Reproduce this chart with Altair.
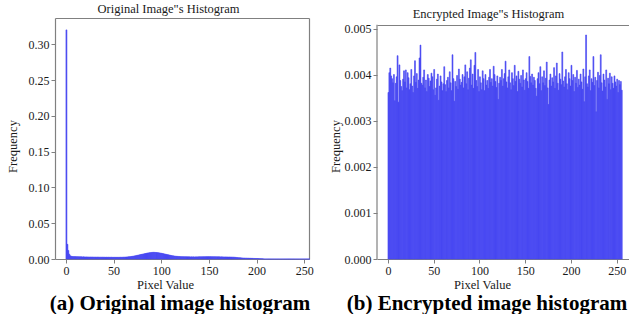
import altair as alt
import pandas as pd

# Pixel intensities 0..255 and the normalised histogram of each image
pixel_values = list(range(256))

original_freq = [
    0.3200, 0.0205, 0.0120, 0.0068, 0.0045, 0.0038, 0.0035, 0.0034, 0.0033, 0.0034, 0.0032, 0.0033, 0.0031, 0.0032, 0.0030, 0.0031,
    0.0030, 0.0029, 0.0030, 0.0029, 0.0028, 0.0029, 0.0028, 0.0028, 0.0027, 0.0028, 0.0027, 0.0028, 0.0027, 0.0026, 0.0027, 0.0026,
    0.0026, 0.0027, 0.0026, 0.0025, 0.0026, 0.0025, 0.0026, 0.0025, 0.0025, 0.0024, 0.0025, 0.0024, 0.0025, 0.0024, 0.0024, 0.0025,
    0.0024, 0.0023, 0.0024, 0.0024, 0.0023, 0.0024, 0.0023, 0.0024, 0.0024, 0.0025, 0.0024, 0.0025, 0.0026, 0.0026, 0.0027, 0.0028,
    0.0029, 0.0030, 0.0032, 0.0033, 0.0035, 0.0037, 0.0039, 0.0042, 0.0044, 0.0047, 0.0050, 0.0053, 0.0056, 0.0059, 0.0062, 0.0065,
    0.0068, 0.0071, 0.0074, 0.0077, 0.0080, 0.0083, 0.0085, 0.0087, 0.0089, 0.0091, 0.0092, 0.0093, 0.0093, 0.0092, 0.0091, 0.0090,
    0.0088, 0.0086, 0.0084, 0.0082, 0.0079, 0.0076, 0.0073, 0.0070, 0.0067, 0.0064, 0.0061, 0.0058, 0.0055, 0.0052, 0.0049, 0.0046,
    0.0044, 0.0042, 0.0040, 0.0038, 0.0037, 0.0036, 0.0035, 0.0034, 0.0033, 0.0033, 0.0032, 0.0032, 0.0031, 0.0031, 0.0031, 0.0030,
    0.0030, 0.0030, 0.0029, 0.0030, 0.0029, 0.0030, 0.0029, 0.0029, 0.0030, 0.0029, 0.0030, 0.0030, 0.0031, 0.0030, 0.0031, 0.0031,
    0.0032, 0.0031, 0.0032, 0.0033, 0.0032, 0.0033, 0.0032, 0.0033, 0.0032, 0.0032, 0.0031, 0.0032, 0.0031, 0.0031, 0.0030, 0.0031,
    0.0030, 0.0030, 0.0029, 0.0030, 0.0029, 0.0029, 0.0028, 0.0029, 0.0028, 0.0028, 0.0027, 0.0028, 0.0027, 0.0027, 0.0026, 0.0026,
    0.0025, 0.0024, 0.0022, 0.0021, 0.0019, 0.0018, 0.0017, 0.0016, 0.0015, 0.0014, 0.0013, 0.0013, 0.0012, 0.0012, 0.0011, 0.0011,
    0.0010, 0.0010, 0.0009, 0.0009, 0.0008, 0.0008, 0.0007, 0.0007, 0.0006, 0.0006, 0.0005, 0.0004, 0.0004, 0.0003, 0.0002, 0.0001,
    0.0, 0.0, 0.0, 0.0, 0.0, 0.0, 0.0, 0.0, 0.0, 0.0, 0.0, 0.0, 0.0, 0.0, 0.0, 0.0,
    0.0, 0.0, 0.0, 0.0, 0.0, 0.0, 0.0, 0.0, 0.0, 0.0, 0.0, 0.0, 0.0, 0.0, 0.0, 0.0,
    0.0, 0.0, 0.0, 0.0, 0.0, 0.0, 0.0, 0.0, 0.0, 0.0, 0.0, 0.0, 0.0, 0.0, 0.0, 0.0,
]

encrypted_freq = [
    0.00362, 0.00405, 0.00415, 0.00398, 0.00392, 0.00383, 0.00401, 0.00344, 0.00382, 0.00396, 0.00442, 0.00341, 0.00422, 0.00388, 0.00375, 0.00366,
    0.00391, 0.00409, 0.00385, 0.00411, 0.00372, 0.00405, 0.00394, 0.00368, 0.00381, 0.00412, 0.00376, 0.00362, 0.00398, 0.00431, 0.00384, 0.00403,
    0.00371, 0.00389, 0.00437, 0.00465, 0.00382, 0.00378, 0.00395, 0.00411, 0.00372, 0.00389, 0.00364, 0.00401, 0.00393, 0.00375, 0.00387, 0.00404,
    0.00396, 0.00368, 0.00412, 0.00356, 0.00372, 0.00391, 0.00402, 0.00345, 0.00376, 0.00398, 0.00385, 0.00366, 0.00381, 0.00418, 0.00379, 0.00364,
    0.00388, 0.00395, 0.00372, 0.00407, 0.00383, 0.00366, 0.00444, 0.00392, 0.00343, 0.00386, 0.00375, 0.00399, 0.00369, 0.00413, 0.00391, 0.00378,
    0.00384, 0.00401, 0.00372, 0.00396, 0.00422, 0.00381, 0.00407, 0.00368, 0.00393, 0.00415, 0.00433, 0.00378, 0.00402, 0.00371, 0.00421, 0.00449,
    0.00388, 0.00375, 0.00412, 0.00364, 0.00396, 0.00383, 0.00368, 0.00409, 0.00392, 0.00366, 0.00401, 0.00378, 0.00388, 0.00371, 0.00395, 0.00412,
    0.00384, 0.00392, 0.00376, 0.00419, 0.00401, 0.00386, 0.00373, 0.00398, 0.00347, 0.00382, 0.00395, 0.00388, 0.00412, 0.00376, 0.00392, 0.00403,
    0.00430, 0.00385, 0.00372, 0.00396, 0.00411, 0.00383, 0.00368, 0.00405, 0.00392, 0.00377, 0.00421, 0.00386, 0.00398, 0.00364, 0.00408, 0.00391,
    0.00382, 0.00399, 0.00374, 0.00411, 0.00389, 0.00367, 0.00392, 0.00405, 0.00386, 0.00371, 0.00440, 0.00397, 0.00383, 0.00402, 0.00378, 0.00395,
    0.00388, 0.00371, 0.00354, 0.00392, 0.00405, 0.00381, 0.00418, 0.00366, 0.00396, 0.00383, 0.00409, 0.00377, 0.00393, 0.00428, 0.00372, 0.00336,
    0.00389, 0.00402, 0.00376, 0.00394, 0.00385, 0.00416, 0.00371, 0.00398, 0.00426, 0.00382, 0.00367, 0.00403, 0.00391, 0.00379, 0.00450, 0.00387,
    0.00374, 0.00396, 0.00412, 0.00381, 0.00368, 0.00405, 0.00392, 0.00376, 0.00421, 0.00388, 0.00401, 0.00364, 0.00395, 0.00382, 0.00410, 0.00373,
    0.00391, 0.00378, 0.00402, 0.00385, 0.00369, 0.00413, 0.00342, 0.00396, 0.00487, 0.00381, 0.00374, 0.00398, 0.00411, 0.00366, 0.00392, 0.00384,
    0.00440, 0.00377, 0.00395, 0.00320, 0.00388, 0.00406, 0.00372, 0.00399, 0.00444, 0.00383, 0.00365, 0.00402, 0.00389, 0.00374, 0.00411, 0.00347,
    0.00393, 0.00381, 0.00404, 0.00368, 0.00396, 0.00382, 0.00371, 0.00398, 0.00385, 0.00376, 0.00391, 0.00362, 0.00388, 0.00379, 0.00386, 0.00367,
]

panel_titles = ['Original Image"s Histogram', 'Encrypted Image"s Histogram']
captions = ["(a) Original image histogram", "(b) Encrypted image histogram"]
x_ticks = [0, 50, 100, 150, 200, 250]
original_y_ticks = [0.0, 0.05, 0.10, 0.15, 0.20, 0.25, 0.30]
encrypted_y_ticks = [0.0, 0.001, 0.002, 0.003, 0.004, 0.005]
encrypted_frame_top = [0.00509]

BAR = "#4646f2"
FRAME = "#808080"
SERIF = "Liberation Serif"
INK = "#1a1a1a"


def hist_frame(freq):
    return pd.DataFrame({
        "pixel": pixel_values,
        "pixel_end": [p + 1 for p in pixel_values],
        "freq": freq,
    })


def bars_layer(df, xscale, yscale, y_ticks, y_fmt, x_title_x, y_title_x, y_domain):
    return alt.Chart(df).mark_rect(color=BAR, stroke=BAR, strokeWidth=0.6).encode(
        x=alt.X("pixel:Q", scale=xscale,
                axis=alt.Axis(values=x_ticks, title="Pixel Value", titleX=x_title_x,
                              titleY=25, titleBaseline="middle", titleAlign="center")),
        x2="pixel_end:Q",
        y=alt.Y("freq:Q", scale=yscale,
                axis=alt.Axis(values=y_ticks, format=y_fmt, title="Frequency", domain=y_domain,
                              titleX=y_title_x, titleY=128, titleBaseline="middle",
                              titleAlign="center", titleAngle=270)),
        y2=alt.datum(0),
    )


def caption_title(text, dx):
    return alt.TitleParams(text, orient="bottom", anchor="middle", frame="group",
                           baseline="alphabetic", offset=19, dx=dx, font=SERIF,
                           fontSize=21, fontWeight="bold", color="black")


# (a) original image
W_A, H_A = 254, 241
xs_a = alt.Scale(domain=[-11.5, 255.0], nice=False, zero=False)
ys_a = alt.Scale(domain=[0, 0.3366], nice=False)
df_a = hist_frame(original_freq)

bars_a = bars_layer(df_a, xs_a, ys_a, original_y_ticks, ".2f", 110, -43, True)
frame_a = alt.Chart(df_a).mark_point(opacity=0, size=0).encode(
    x=alt.X("pixel:Q", scale=xs_a,
            axis=alt.Axis(orient="top", labels=False, ticks=False, title=panel_titles[0],
                          titleX=113, titleY=-10, titleBaseline="middle", titleAlign="center",
                          titleFontSize=12.5)),
    y=alt.Y("freq:Q", scale=ys_a,
            axis=alt.Axis(orient="right", labels=False, ticks=False, title=None)),
)
panel_a = alt.layer(bars_a, frame_a).resolve_axis(x="independent", y="independent").properties(
    width=W_A, height=H_A, title=caption_title(captions[0], -2),
)

# (b) encrypted image
W_B, H_B = 252, 241
xs_b = alt.Scale(domain=[-12.0, 263.4], nice=False, zero=False)
ys_b = alt.Scale(domain=[0, 0.005239], nice=False)
df_b = hist_frame(encrypted_freq)

bars_b = bars_layer(df_b, xs_b, ys_b, encrypted_y_ticks, ".3f", 105, -42, False)
frame_b_top = alt.Chart(df_b).mark_point(opacity=0, size=0).encode(
    x=alt.X("pixel:Q", scale=xs_b,
            axis=alt.Axis(orient="top", labels=False, ticks=False, offset=-7,
                          title=panel_titles[1], titleX=111, titleY=-12,
                          titleBaseline="middle", titleAlign="center", titleFontSize=12.5)),
)
frame_b_left = alt.Chart(pd.DataFrame({"top": encrypted_frame_top})).mark_rule(
    color=FRAME, strokeWidth=1.2
).encode(
    x=alt.value(0),
    y=alt.Y("top:Q", scale=ys_b, axis=None),
    y2=alt.datum(0),
)
panel_b = alt.layer(bars_b, frame_b_top, frame_b_left).resolve_axis(
    x="independent", y="independent"
).properties(
    width=W_B, height=H_B, title=caption_title(captions[1], -16),
)

chart = alt.hconcat(panel_a, panel_b, spacing=68, bounds="flush").properties(
    padding={"left": 6, "top": 2, "right": 0, "bottom": 0},
    background="white",
).configure_view(
    strokeOpacity=0
).configure_axis(
    labelFont=SERIF, labelFontSize=12, labelColor=INK, labelPadding=2,
    titleFont=SERIF, titleFontSize=12.5, titleFontWeight="normal", titleColor=INK,
    tickColor=FRAME, tickSize=4, domainColor=FRAME, domainWidth=1.2, grid=False,
)

chart.save("out.html", embed_options={"renderer": "svg", "actions": False})
